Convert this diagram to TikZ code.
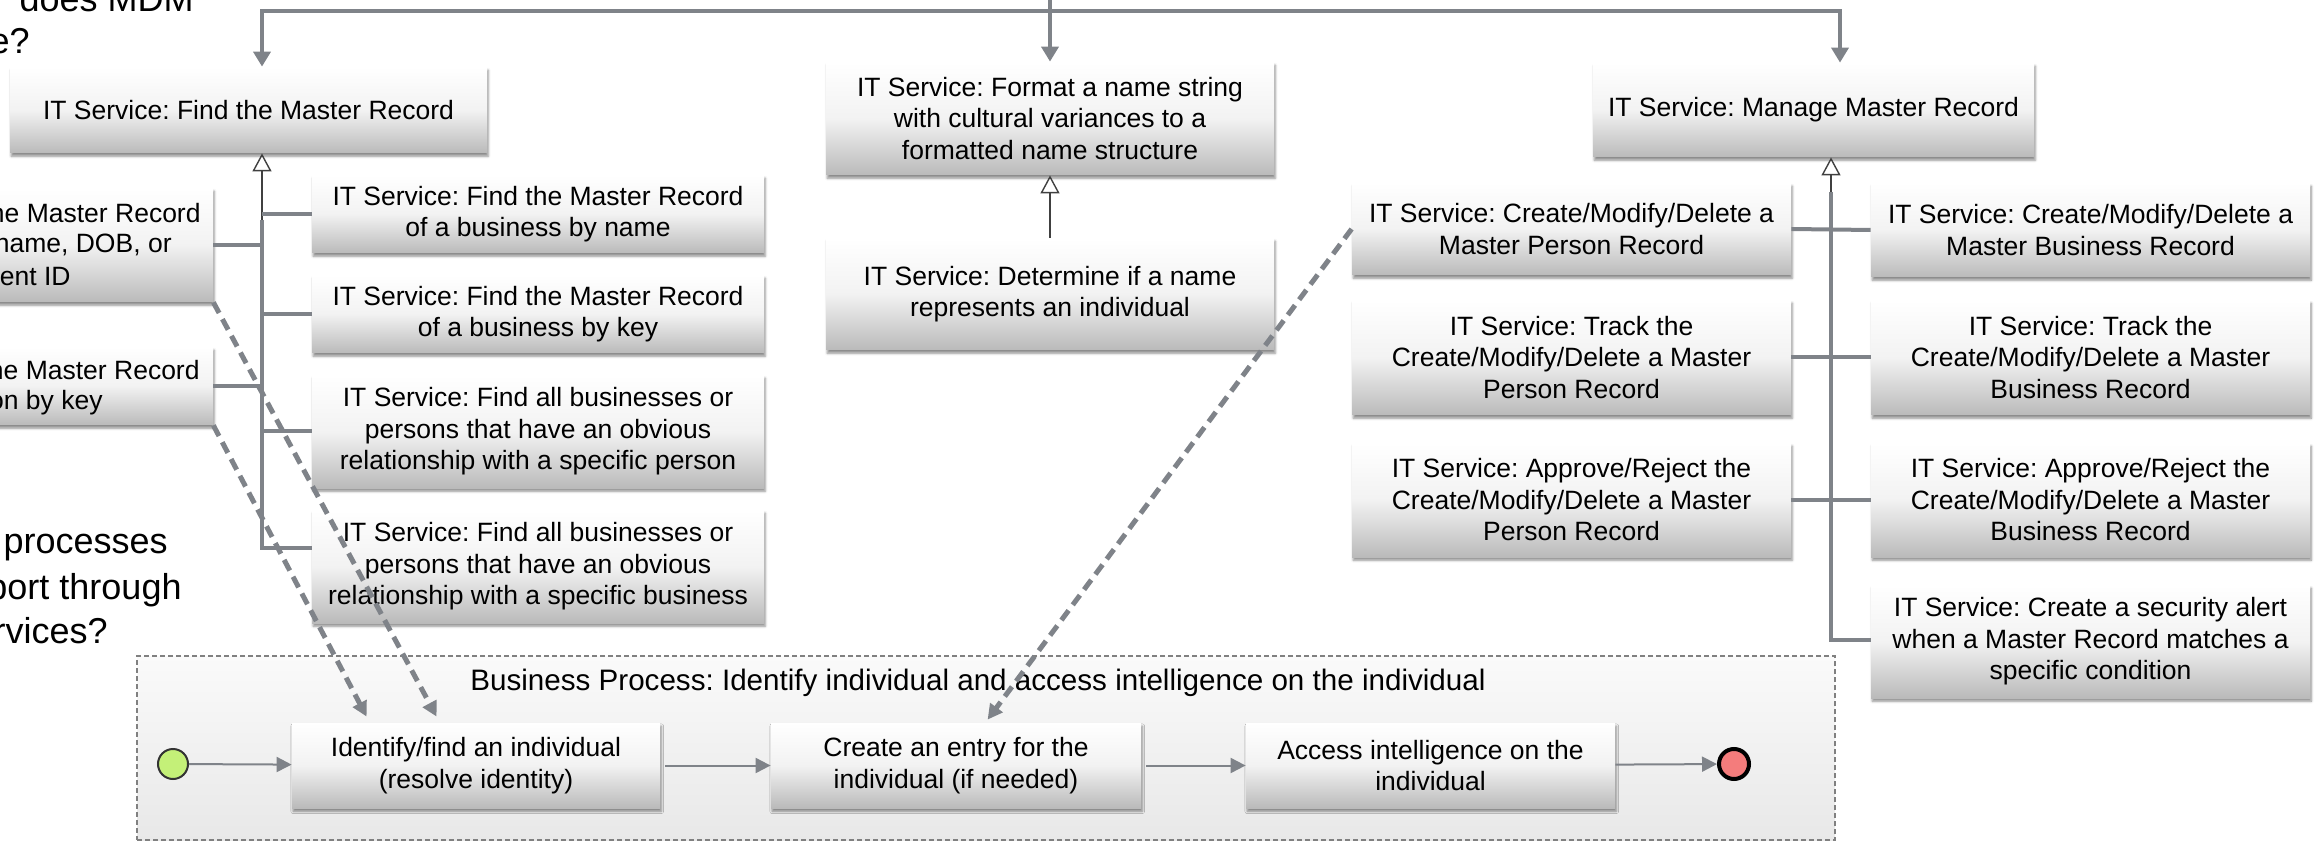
\documentclass[tikz,border=0pt]{standalone}
\usepackage{fontspec}
\setmainfont{Liberation Sans}
\usetikzlibrary{arrows.meta,calc,shadows.blur}
\definecolor{conn}{RGB}{127,131,137}
\definecolor{startg}{RGB}{196,240,120}
\definecolor{endr}{RGB}{244,124,124}
\newcommand\bxfont{\fontsize{13.25pt}{15.75pt}\selectfont}
\newcommand\ttlfont{\fontsize{14.8pt}{17pt}\selectfont}
\newcommand\sidefont{\fontsize{18pt}{23.5pt}\selectfont}
\frenchspacing
\tikzset{
  svc/.style 2 args={rectangle, inner sep=0pt, align=center, font=\bxfont,
     minimum width=#1*0.5pt, minimum height=#2*0.5pt,
     top color=white, bottom color=black!27, middle color=black!5,
     blur shadow={shadow xshift=0.6pt, shadow yshift=-1.6pt, shadow blur radius=1.2pt, shadow opacity=45}},
  frag/.style={inner sep=0pt, font=\bxfont, anchor=east},
  side/.style={inner sep=0pt, font=\sidefont, anchor=base east},
  busline/.style={draw=conn, line width=2.3pt, line join=miter},
  bustip/.style={-{Triangle[length=7.5pt,width=8.5pt]}},
  tree/.style={draw=conn, line width=2pt},
  gen/.style={draw=black!75, line width=0.7pt, -{Triangle[length=9pt,width=9.5pt,fill=white]}},
  flow/.style={draw=conn, line width=1pt, -{Triangle[length=7.5pt,width=7.5pt]}},
  dasharrow/.style={draw=conn, line width=2.5pt, dash pattern=on 6pt off 3.5pt, -{Triangle[length=7.5pt,width=7.5pt]}},
}
\begin{document}
\begin{tikzpicture}[x=0.5pt,y=-0.5pt]
\useasboundingbox (0,0) rectangle (2323,844);
\clip (0,0) rectangle (2323,844);

% side question texts (cropped)
\node[side] (q1) at (194,12) {does MDM};
\node[side] (q2) at (30,54) {e?};
\node[side] (q3) at (168,553) {processes};
\node[side] (q4) at (182,599) {port through};
\node[side] (q5) at (108,643) {rvices?};

% business process container
\node[draw=black!50, dash pattern=on 2.5pt off 1.5pt, line width=0.8pt,
      top color=black!2, bottom color=black!9, inner sep=0pt,
      minimum width=1698*0.5pt, minimum height=184*0.5pt] (bp) at (986,748) {};
\node[font=\ttlfont, inner sep=0pt] (bpt) at (978,683) {Business Process: Identify individual and access intelligence on the individual};

% left group
\node[svc={477}{86}] (A) at (248.5,110) {IT Service: Find the Master Record};
\node[svc={450}{114}] (B) at (-12,245) {};
\node[frag] (bt1) at (201,213) {he Master Record};
\node[frag] (bt2) at (172,245) {name, DOB, or};
\node[frag] (bt3) at (71,277) {ent ID};
\node[svc={452}{78}] (C) at (538,214) {IT Service: Find the Master Record\\of a business by name};
\node[svc={452}{78}] (D) at (538,314) {IT Service: Find the Master Record\\of a business by key};
\node[svc={450}{78}] (E) at (-12,386) {};
\node[frag] (et1) at (200,370) {he Master Record};
\node[frag] (et2) at (103,403) {on by key};
\node[svc={452}{113}] (F) at (538,431.5) {IT Service: Find all businesses or\\persons that have an obvious\\relationship with a specific person};
\node[svc={452}{113}] (G) at (538,566.5) {IT Service: Find all businesses or\\persons that have an obvious\\relationship with a specific business};

% middle group
\node[svc={448}{113}] (H) at (1050,118.5) {IT Service: Format a name string\\with cultural variances to a\\formatted name structure};
\node[svc={448}{112}] (I) at (1050,294) {IT Service: Determine if a name\\represents an individual};

% right group
\node[svc={441}{94}] (J) at (1813.5,110) {IT Service: Manage Master Record};
\node[svc={439}{92}] (K1) at (1571.5,229) {IT Service: Create/Modify/Delete a\\Master Person Record};
\node[svc={439}{94}] (K2) at (2090.5,230) {IT Service: Create/Modify/Delete a\\Master Business Record};
\node[svc={439}{115}] (L1) at (1571.5,357.5) {IT Service: Track the\\Create/Modify/Delete a Master\\Person Record};
\node[svc={439}{115}] (L2) at (2090.5,357.5) {IT Service: Track the\\Create/Modify/Delete a Master\\Business Record};
\node[svc={439}{114}] (M1) at (1571.5,500) {IT Service: Approve/Reject the\\Create/Modify/Delete a Master\\Person Record};
\node[svc={439}{114}] (M2) at (2090.5,500) {IT Service: Approve/Reject the\\Create/Modify/Delete a Master\\Business Record};
\node[svc={439}{113}] (N) at (2090.5,641.5) {IT Service: Create a security alert\\when a Master Record matches a\\specific condition};

% process steps
\node[circle, draw=black!80, line width=1pt, fill=startg, minimum size=15pt, inner sep=0pt] (S) at (173,764) {};
\node[svc={368}{85}] (P1) at (476,765.5) {Identify/find an individual\\(resolve identity)};
\node[svc={370}{85}] (P2) at (956,765.5) {Create an entry for the\\individual (if needed)};
\node[svc={369}{85}] (P3) at (1430.5,765.5) {Access intelligence on the\\individual};
\node[circle, draw=black, line width=2pt, fill=endr, minimum size=15pt, inner sep=0pt] (fin) at (1734,764) {};

% top bus
\coordinate (busTop) at (1050,-10);
\coordinate (busJ) at (1050,11);
\coordinate (busL) at (262,11);
\coordinate (busR) at (1840,11);
\draw[busline] (busTop) -- (busJ);
\draw[busline, bustip] (busJ) -- (busL) -- (busL |- A.north);
\draw[busline, bustip] (busJ) -- (busR) -- (busR |- J.north);
\draw[busline, bustip] (busJ) -- (H.north);

% left tree
\coordinate (tl) at (262,220);
\coordinate (tlb) at (262,548);
\draw[gen] (tl) -- (tl |- A.south);
\draw[tree] (tl) -- (tlb) -- (tlb -| G.west);
\draw[tree] (B.east) -- (B.east -| tl);
\draw[tree] (E.east) -- (E.east -| tl);
\draw[tree] (C.west -| tl) -- (C.west);
\draw[tree] (D.west -| tl) -- (D.west);
\draw[tree] (F.west -| tl) -- (F.west);

% middle generalization
\draw[gen] (I.north) -- (H.south);

% right tree
\coordinate (tr) at (1831,192);
\coordinate (trb) at (1831,640);
\draw[gen] (tr) -- (tr |- J.south);
\draw[tree] (tr) -- (trb) -- (trb -| N.west);
\draw[tree] (K1.east) -- (K2.west);
\draw[tree] (L1.east) -- (L2.west);
\draw[tree] (M1.east) -- (M2.west);

% process flow
\draw[flow] (S) -- (P1);
\draw[flow, shorten <=2.5pt] (P1) -- (P2);
\draw[flow, shorten <=2.5pt] (P2) -- (P3);
\draw[flow] (P3) -- (fin);

% dashed usage arrows
\draw[dasharrow] (B.south east) -- ($(P1.north west)+(145,-6)$);
\draw[dasharrow] (E.south east) -- ($(P1.north west)+(75,-6)$);
\draw[dasharrow] (K1.west) -- ($(P2.north west)+(217,-3)$);
\end{tikzpicture}
\end{document}
